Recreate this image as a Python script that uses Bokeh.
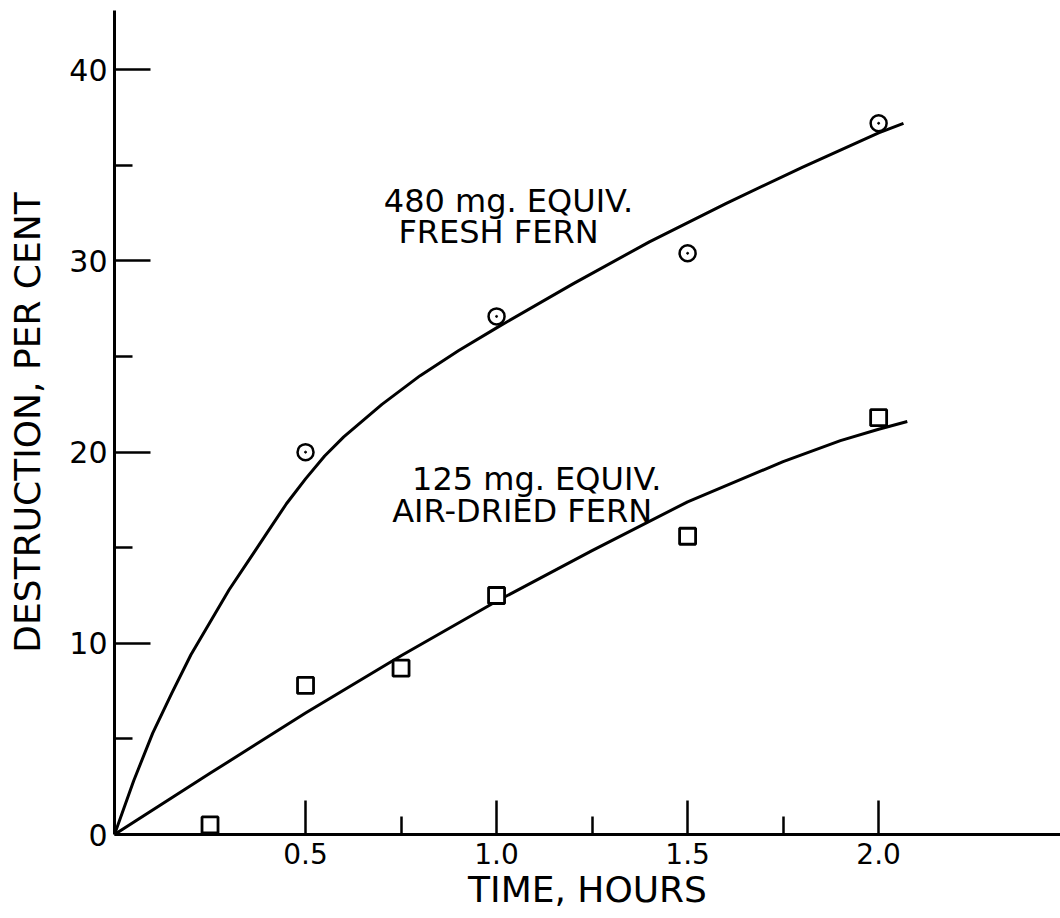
from bokeh.plotting import figure
from bokeh.models import Range1d, FixedTicker, Label
from bokeh.embed import file_html
from bokeh.resources import INLINE

# Measured points: destruction (per cent) against time (hours)
fresh_t = [0.5, 1.0, 1.5, 2.0]
fresh_pct = [20.0, 27.1, 30.4, 37.2]
dried_t = [0.25, 0.5, 0.75, 1.0, 1.5, 2.0]
dried_pct = [0.5, 7.8, 8.7, 12.5, 15.6, 21.8]

# Hand-fitted curves through each series
fresh_curve_t = [0, 0.05, 0.1, 0.15, 0.2, 0.25, 0.3, 0.35, 0.4, 0.45, 0.5, 0.55,
                 0.6, 0.7, 0.8, 0.9, 1.0, 1.2, 1.4, 1.6, 1.8, 2.0, 2.065]
fresh_curve_pct = [0, 2.8, 5.3, 7.4, 9.4, 11.1, 12.8, 14.3, 15.8, 17.3, 18.6, 19.8,
                   20.8, 22.5, 24.0, 25.3, 26.5, 28.8, 31.0, 33.0, 34.9, 36.7, 37.2]
dried_curve_t = [0, 0.25, 0.5, 0.75, 1.0, 1.25, 1.5, 1.75, 1.9, 2.0, 2.075]
dried_curve_pct = [0, 3.2, 6.35, 9.35, 12.2, 14.85, 17.4, 19.5, 20.6, 21.2, 21.6]

# Axis ticks
x_major = [0.5, 1.0, 1.5, 2.0]
x_minor = [0.75, 1.25, 1.75]
x_tick_labels = ["0.5", "1.0", "1.5", "2.0"]
y_major = [0, 10, 20, 30, 40]
y_minor = [5, 15, 25, 35]
y_tick_labels = ["0", "10", "20", "30", "40"]

FONT = "DejaVu Sans"

p = figure(width=1060, height=918,
           x_range=Range1d(0, 2.476), y_range=Range1d(0, 43.1),
           output_backend="svg", toolbar_location=None,
           min_border_left=114, min_border_right=0,
           min_border_top=10, min_border_bottom=84)
p.xgrid.visible = False
p.ygrid.visible = False
p.outline_line_color = None
p.background_fill_color = "white"
p.border_fill_color = "white"

for ax in (p.xaxis[0], p.yaxis[0]):
    ax.axis_line_width = 3
    ax.axis_line_color = "black"
    ax.major_tick_line_width = 2.5
    ax.minor_tick_line_width = 2.5
    ax.major_tick_line_color = "black"
    ax.minor_tick_line_color = "black"
    ax.major_tick_out = 0
    ax.minor_tick_out = 0
    ax.minor_tick_in = 18
    ax.major_label_text_font = FONT
    ax.major_label_text_color = "black"
    ax.axis_label_text_font = FONT
    ax.axis_label_text_font_style = "normal"
    ax.axis_label_text_color = "black"

xa = p.xaxis[0]
xa.ticker = FixedTicker(ticks=x_major, minor_ticks=x_minor)
xa.major_label_overrides = {t: s for t, s in zip(x_major, x_tick_labels)}
xa.major_tick_in = 34
xa.major_label_standoff = 8
xa.major_label_text_font_size = "28px"
xa.axis_label = "TIME, HOURS"
xa.axis_label_text_font_size = "36px"
xa.axis_label_standoff = 2

ya = p.yaxis[0]
ya.ticker = FixedTicker(ticks=y_major, minor_ticks=y_minor)
ya.major_label_overrides = {t: s for t, s in zip(y_major, y_tick_labels)}
ya.major_tick_in = 36
ya.major_label_standoff = 7
ya.major_label_text_font_size = "30px"
ya.axis_label = "DESTRUCTION, PER CENT"
ya.axis_label_text_font_size = "36px"
ya.axis_label_standoff = 18

# Fitted curves
p.line(fresh_curve_t, fresh_curve_pct, line_color="black", line_width=3,
       line_join="round")
p.line(dried_curve_t, dried_curve_pct, line_color="black", line_width=3,
       line_join="round")

# Data points
p.scatter(fresh_t, fresh_pct, marker="circle", size=16,
          fill_color="white", line_color="black", line_width=2.5)
p.scatter(fresh_t, fresh_pct, marker="circle", size=2, color="black")
p.scatter(dried_t, dried_pct, marker="square", size=16,
          fill_color="white", line_color="black", line_width=2.8)

# Curve captions
captions = [
    (1.031, 33.15, "480 mg. EQUIV."),
    (1.005, 31.5, "FRESH FERN"),
    (1.105, 18.6, "125 mg. EQUIV."),
    (1.067, 16.9, "AIR-DRIED FERN"),
]
for cx, cy, txt in captions:
    p.add_layout(Label(x=cx, y=cy, text=txt, text_align="center",
                       text_baseline="alphabetic", text_font=FONT,
                       text_font_size="32px", text_color="black"))

open("out.html", "w").write(file_html(p, INLINE))
